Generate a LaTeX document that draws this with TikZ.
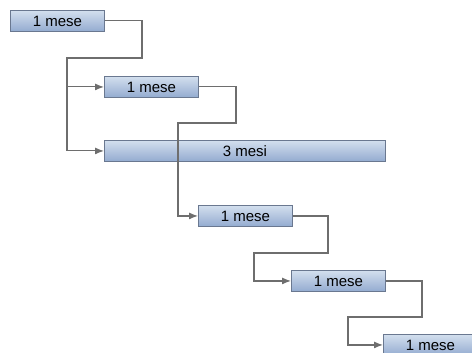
\documentclass[tikz,border=0pt]{standalone}
\usepackage{fontspec}
\setmainfont{Liberation Sans}
\usetikzlibrary{arrows.meta}
\definecolor{boxtop}{HTML}{D3DFEE}
\definecolor{boxbot}{HTML}{93ABD0}
\definecolor{boxline}{HTML}{6A7890}
\definecolor{linkgray}{HTML}{6E6E6E}

\begin{document}
\begin{tikzpicture}[
		x=1pt,y=-1pt,
		task/.style={draw=boxline,line width=0.9pt,top color=boxtop,bottom color=boxbot,
			anchor=north west,minimum height=21pt,inner sep=0pt,
			font=\fontsize{15}{17}\selectfont},
		link/.style={draw=linkgray,line width=1.1pt},
		arr/.style={link,-{Latex[length=9pt,width=7pt]}}
		]
		\clip (0,0) rectangle (472,353);
		\fill[white] (0,0) rectangle (472,353);
		
		\node[task,minimum width=94pt] (b1) at (10,10) {1 mese};
		\node[task,minimum width=94pt] (b2) at (104,76) {1 mese};
		\node[task,minimum width=281pt] (b3) at (104,140) {3 mesi};
		\node[task,minimum width=94pt] (b4) at (198,205) {1 mese};
		\node[task,minimum width=94pt] (b5) at (291,270) {1 mese};
		\node[task,minimum width=94pt] (b6) at (383,334) {1 mese};
		
		% elbows of the connectors
		\coordinate (d1) at (142,58);
		\coordinate (s1) at (67,58);
		\draw[arr] (b1.east) -| (d1) -- (s1) |- (b3.west);
		\draw[arr] (s1) |- (b2.west);
		\foreach \a/\b/\r/\l/\y in {b2/b4/236/178/123,b4/b5/328/254/253,b5/b6/422/348/317} {
			\coordinate (d\a) at (\r,\y);
			\coordinate (s\a) at (\l,\y);
			\draw[arr] (\a.east) -| (d\a) -- (s\a) |- (\b.west);
		}
	\end{tikzpicture}
\end{document}
